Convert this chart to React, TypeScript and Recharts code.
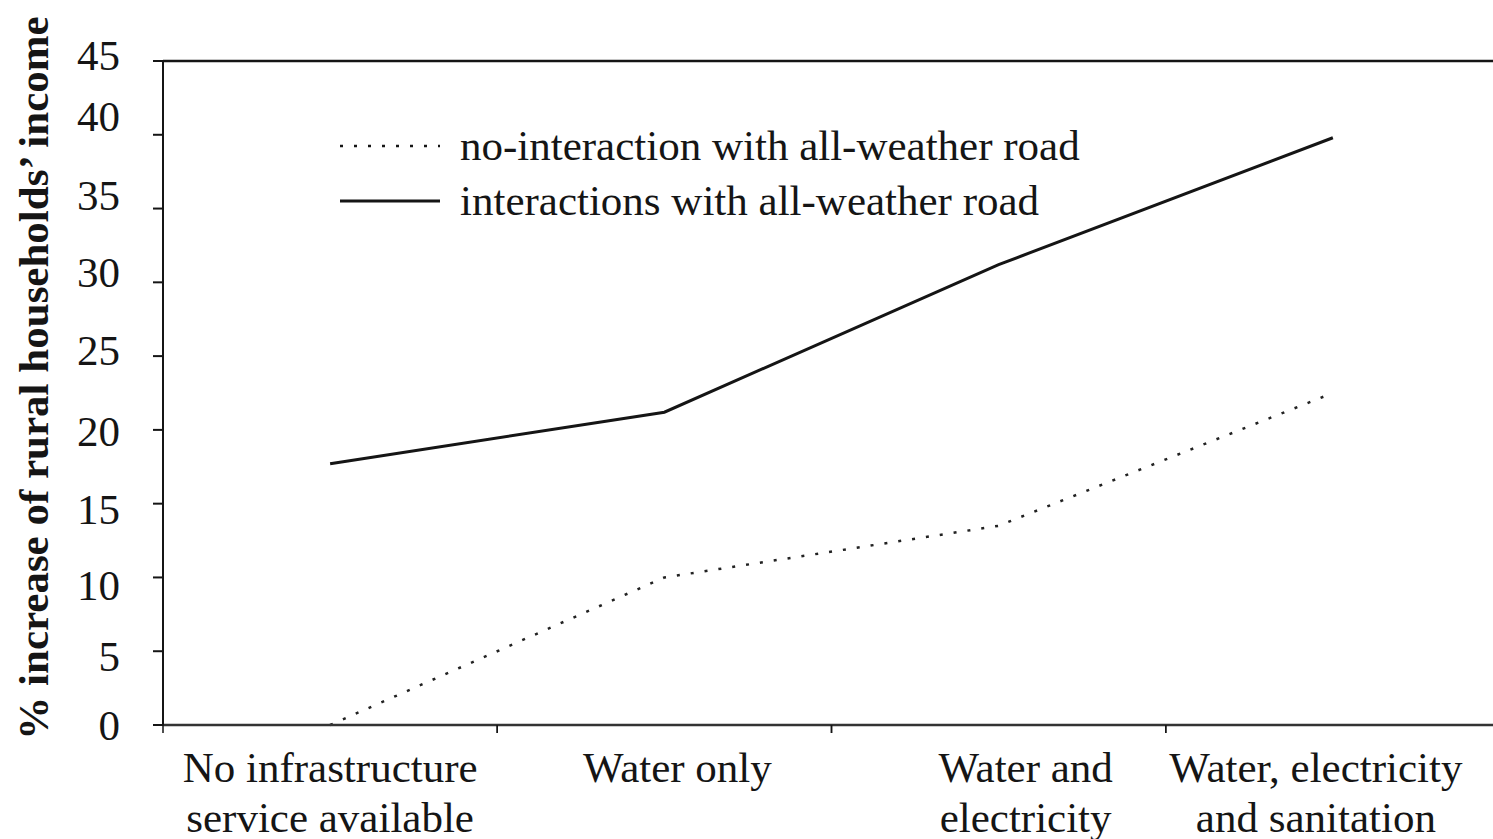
import React from 'react';
import { LineChart, Line, XAxis, YAxis, ReferenceLine, Legend, Label } from 'recharts';

const categories = [
  'No infrastructure\nservice available',
  'Water only',
  'Water and\nelectricity',
  'Water, electricity\nand sanitation',
];
const noInteraction = [0, 10, 13.5, 22.5];
const withInteraction = [17.7, 21.2, 31.2, 39.8];
const seriesNames = ['no-interaction with all-weather road', 'interactions with all-weather road'];
const yTicks = [0, 5, 10, 15, 20, 25, 30, 35, 40, 45];
const yAxisTitle = '% increase of rural households\u2019 income';

// label nudges (style only)
const xLabelNudge = [0, 13, 27, -17];
const yLabelNudge: Record<number, number> = { 0: 0, 5: 5, 10: 8, 15: 6, 20: 2, 25: -6, 30: -10, 35: -13, 40: -18, 45: -6 };

const FONT = '"Liberation Serif", "Times New Roman", serif';
const INK = '#151515';

const data = categories.map((c, i) => ({
  category: c,
  noInt: noInteraction[i],
  withInt: withInteraction[i],
}));

const XTick = (props: any) => {
  const { x, y, payload, index } = props;
  const lines = String(payload.value).split('\n');
  const nx = x + (xLabelNudge[index] || 0);
  const half = typeof payload.offset === 'number' ? payload.offset : 0;
  return (
    <g>
      {half > 0 && (
        <>
          <line x1={x - half} y1={y} x2={x - half} y2={y + 8} stroke={INK} strokeWidth={1.5} />
          <line x1={x + half} y1={y} x2={x + half} y2={y + 8} stroke={INK} strokeWidth={1.5} />
        </>
      )}
      <text x={nx} y={y} textAnchor="middle" fontFamily={FONT} fontSize={43} fill={INK}>
        {lines.map((l, i) => (
          <tspan key={i} x={nx} dy={i === 0 ? 57 : 50}>
            {l}
          </tspan>
        ))}
      </text>
    </g>
  );
};

const YTick = (props: any) => {
  const { x, y, payload } = props;
  return (
    <text
      x={x}
      y={y + (yLabelNudge[payload.value] || 0)}
      textAnchor="end"
      dominantBaseline="central"
      fontFamily={FONT}
      fontSize={43}
      fill={INK}
    >
      {payload.value}
    </text>
  );
};

const renderLegend = (props: any) => {
  const payload = [...(props.payload || [])].sort(
    (a: any, b: any) => seriesNames.indexOf(a.value) - seriesNames.indexOf(b.value)
  );
  return (
    <div style={{ fontFamily: FONT, fontSize: 43, color: INK }}>
      {payload.map((entry: any, i: number) => (
        <div key={i} style={{ display: 'flex', alignItems: 'center', height: 55, whiteSpace: 'nowrap' }}>
          <svg width={100} height={10} style={{ marginRight: 20 }}>
            <line
              x1={0}
              y1={5}
              x2={100}
              y2={5}
              stroke={INK}
              strokeWidth={entry.payload?.strokeWidth || 2.5}
              strokeDasharray={entry.payload?.strokeDasharray}
            />
          </svg>
          <span style={{ lineHeight: '55px' }}>{entry.value}</span>
        </div>
      ))}
    </div>
  );
};

const renderYTitle = () => (
  <text
    x={33}
    y={378}
    transform="rotate(-90, 33, 378)"
    textAnchor="middle"
    dominantBaseline="central"
    fontFamily={FONT}
    fontWeight="bold"
    fontSize={43}
    fill={INK}
  >
    {yAxisTitle}
  </text>
);

export default function App() {
  return (
    <div style={{ position: 'fixed', left: 0, top: 0, width: 1493, height: 839, overflow: 'hidden', background: '#fff' }}>
      <LineChart width={1520} height={839} data={data} margin={{ top: 61, right: 20, bottom: 0, left: 0 }}>
        <XAxis
          dataKey="category"
          scale="band"
          interval={0}
          tick={<XTick />}
          tickLine={false}
          tickSize={0}
          tickMargin={0}
          axisLine={{ stroke: '#333', strokeWidth: 2.5 }}
          height={114}
        />
        <YAxis
          domain={[0, 45]}
          ticks={yTicks}
          interval={0}
          width={163}
          tickSize={10}
          tickMargin={33}
          tick={<YTick />}
          axisLine={{ stroke: INK, strokeWidth: 2 }}
          tickLine={{ stroke: INK, strokeWidth: 2 }}
        >
          <Label content={renderYTitle} />
        </YAxis>
        <ReferenceLine y={45} stroke={INK} strokeWidth={2.5} />
        <Legend
          layout="horizontal"
          verticalAlign="middle"
          align="center"
          content={renderLegend}
          wrapperStyle={{ left: 340, top: 118, width: 900 }}
        />
        <Line
          dataKey="noInt"
          name={seriesNames[0]}
          stroke="#222"
          strokeWidth={2.5}
          strokeDasharray="3 11"
          dot={false}
          isAnimationActive={false}
        />
        <Line
          dataKey="withInt"
          name={seriesNames[1]}
          stroke={INK}
          strokeWidth={3}
          dot={false}
          isAnimationActive={false}
        />
      </LineChart>
    </div>
  );
}
